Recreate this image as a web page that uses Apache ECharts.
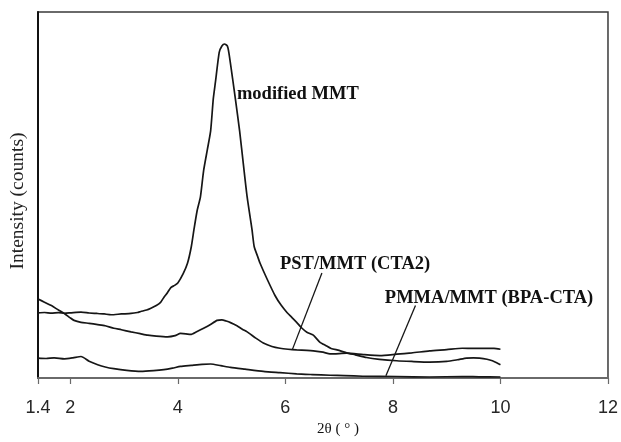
<!DOCTYPE html>
<html>
<head>
<meta charset="utf-8">
<script src="https://cdn.jsdelivr.net/npm/echarts@6/dist/echarts.min.js"></script>
<style>
  html, body { margin: 0; padding: 0; background: #fff; }
  #chart { width: 621px; height: 442px; }
</style>
</head>
<body>
<div id="chart"></div>
<script>
// X-ray diffraction patterns: 2θ (degrees) against intensity (counts)
const xTicks = [1.4, 2, 4, 6, 8, 10, 12];

const mmtTheta = [1.40, 1.52, 1.65, 1.78, 1.89, 2.02, 2.20, 2.35, 2.50, 2.63, 2.76, 2.95, 3.13, 3.25, 3.31, 3.42, 3.50, 3.60, 3.68, 3.74, 3.81, 3.87, 3.94, 4.00, 4.10, 4.18, 4.25, 4.30, 4.36, 4.42, 4.48, 4.55, 4.61, 4.66, 4.70, 4.77, 4.82, 4.87, 4.92, 4.95, 5.02, 5.07, 5.15, 5.22, 5.29, 5.38, 5.42, 5.48, 5.53, 5.66, 5.81, 5.92, 6.03, 6.12, 6.21, 6.30, 6.40, 6.52, 6.64, 6.75, 6.85, 7.00, 7.14, 7.30, 7.51, 7.75, 8.07, 8.35, 8.68, 9.00, 9.20, 9.37, 9.50, 9.61, 9.75, 9.85, 9.93, 10.00];
const mmtCounts = [662, 665, 658, 664, 657, 662, 668, 660, 655, 650, 642, 650, 655, 665, 675, 690, 708, 735, 768, 818, 868, 918, 940, 965, 1060, 1165, 1330, 1505, 1700, 1835, 2105, 2320, 2505, 2835, 3005, 3305, 3370, 3390, 3370, 3300, 3035, 2835, 2505, 2165, 1835, 1505, 1335, 1240, 1165, 1005, 835, 740, 665, 615, 565, 510, 465, 435, 365, 330, 300, 280, 255, 235, 208, 190, 175, 168, 162, 168, 185, 202, 205, 202, 190, 175, 155, 135];

const pstTheta = [1.40, 1.52, 1.65, 1.78, 1.89, 2.00, 2.07, 2.20, 2.35, 2.51, 2.65, 2.81, 2.95, 3.13, 3.30, 3.44, 3.60, 3.81, 3.95, 4.05, 4.15, 4.24, 4.35, 4.48, 4.60, 4.73, 4.82, 4.90, 4.98, 5.10, 5.20, 5.29, 5.45, 5.59, 5.75, 5.90, 6.05, 6.21, 6.40, 6.52, 6.70, 6.83, 7.00, 7.14, 7.45, 7.76, 8.07, 8.35, 8.68, 9.00, 9.29, 9.50, 9.74, 9.88, 10.00];
const pstCounts = [802, 770, 735, 690, 655, 610, 585, 565, 555, 542, 530, 505, 490, 468, 450, 435, 425, 418, 430, 452, 448, 442, 470, 505, 540, 585, 590, 578, 562, 530, 495, 468, 405, 355, 320, 302, 292, 285, 280, 275, 262, 245, 248, 252, 238, 228, 242, 255, 275, 288, 302, 300, 302, 300, 292];

const pmmaTheta = [1.40, 1.55, 1.70, 1.89, 2.05, 2.20, 2.35, 2.51, 2.65, 2.81, 3.05, 3.31, 3.55, 3.74, 3.90, 4.05, 4.25, 4.45, 4.61, 4.80, 4.98, 5.25, 5.59, 5.90, 6.21, 6.50, 6.83, 7.10, 7.44, 8.07, 8.68, 9.29, 9.60, 10.00];
const pmmaCounts = [202, 198, 205, 195, 205, 218, 170, 135, 112, 95, 78, 68, 75, 85, 100, 118, 128, 138, 142, 125, 108, 90, 68, 55, 42, 35, 28, 24, 18, 15, 10, 15, 12, 10];

// Curve captions and their leader lines, in data units
const captions = [
  { text: 'modified MMT', at: [5.10, 2885] },
  { text: 'PST/MMT (CTA2)', at: [5.90, 1155] },
  { text: 'PMMA/MMT (BPA-CTA)', at: [7.85, 810] }
];
const pstLeader = [[6.68, 1065], [6.13, 288]];
const pmmaLeader = [[8.42, 735], [7.87, 22]];

const serif = "'Liberation Serif', 'Times New Roman', serif";
const ink = '#161616';

function pairs(xs, ys) { return xs.map((x, i) => [x, ys[i]]); }

function caption(c) {
  return {
    coord: c.at, symbol: 'circle', symbolSize: 0,
    label: {
      show: true, position: 'right', distance: 0, formatter: c.text,
      fontFamily: serif, fontWeight: 'bold', fontSize: 18.5, color: '#111'
    }
  };
}

function leader(seg) {
  return {
    silent: true, symbol: 'none', animation: false,
    lineStyle: { color: ink, width: 1.3, type: 'solid' },
    label: { show: false },
    data: [[{ coord: seg[0] }, { coord: seg[1] }]]
  };
}

const chart = echarts.init(document.getElementById('chart'), null, { renderer: 'canvas' });

chart.setOption({
  backgroundColor: '#fff',
  animation: false,
  grid: {
    left: 37, right: 12, top: 12, bottom: 58.5,
    show: true, borderColor: '#3a3a3a', borderWidth: 1.5, backgroundColor: 'transparent'
  },
  xAxis: {
    type: 'value', min: 1.4, max: 12,
    name: '2θ ( ° )', nameLocation: 'middle', nameGap: 44,
    nameTextStyle: { fontFamily: serif, fontSize: 15, color: '#111', padding: [0, 0, 0, 30] },
    axisLine: { show: true, onZero: false, lineStyle: { color: '#6a6a6a', width: 2 } },
    axisTick: { show: true, customValues: xTicks, length: 6, lineStyle: { color: '#6a6a6a', width: 1.2 } },
    axisLabel: {
      customValues: xTicks, margin: 21,
      fontFamily: "'Liberation Sans', Arial, sans-serif", fontSize: 18, color: '#262626',
      formatter: v => String(v)
    },
    splitLine: { show: false }
  },
  yAxis: {
    type: 'value', min: 0, max: 3715,
    name: 'Intensity (counts)', nameLocation: 'middle', nameGap: 10, nameRotate: 90,
    nameTextStyle: { fontFamily: serif, fontSize: 19.5, color: '#222', padding: [0, 12, 0, 0] },
    axisLine: { show: true, lineStyle: { color: '#111', width: 2 } },
    axisTick: { show: false },
    axisLabel: { show: false },
    splitLine: { show: false }
  },
  series: [
    {
      name: 'modified MMT', type: 'line', showSymbol: false, symbol: 'none', smooth: 0.2,
      lineStyle: { color: ink, width: 1.7 },
      data: pairs(mmtTheta, mmtCounts),
      markPoint: { silent: true, data: [caption(captions[0])] }
    },
    {
      name: 'PST/MMT (CTA2)', type: 'line', showSymbol: false, symbol: 'none', smooth: 0.2,
      lineStyle: { color: ink, width: 1.7 },
      data: pairs(pstTheta, pstCounts),
      markPoint: { silent: true, data: [caption(captions[1])] },
      markLine: leader(pstLeader)
    },
    {
      name: 'PMMA/MMT (BPA-CTA)', type: 'line', showSymbol: false, symbol: 'none', smooth: 0.2,
      lineStyle: { color: ink, width: 1.7 },
      data: pairs(pmmaTheta, pmmaCounts),
      markPoint: { silent: true, data: [caption(captions[2])] },
      markLine: leader(pmmaLeader)
    }
  ]
});
</script>
</body>
</html>
